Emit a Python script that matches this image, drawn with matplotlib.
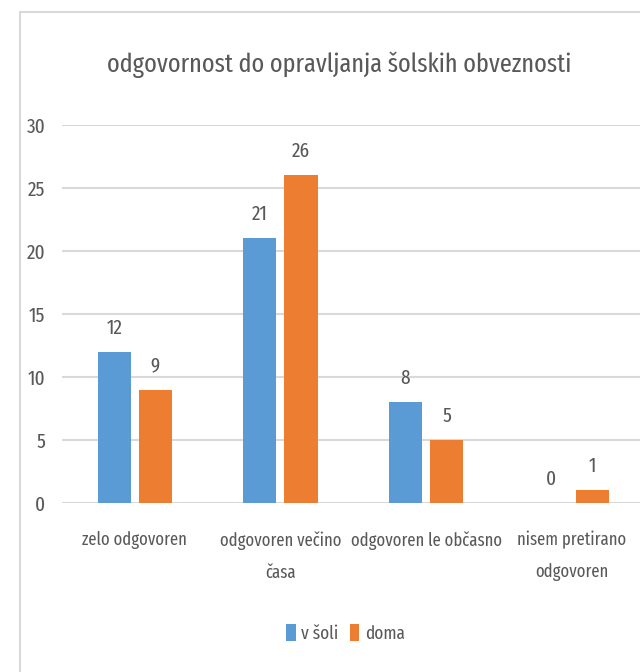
import matplotlib
matplotlib.use("Agg")
import matplotlib.pyplot as plt
from matplotlib.patches import Rectangle
import numpy as np

# data
categories = ["zelo odgovoren", "odgovoren večino\nčasa", "odgovoren le občasno", "nisem pretirano\nodgovoren"]
v_soli = [12, 21, 8, 0]
doma = [9, 26, 5, 1]
series_names = ["v šoli", "doma"]
yticks = [0, 5, 10, 15, 20, 25, 30]

# condensed face, close to the squeezed Calibri of the original
plt.rcParams["font.family"] = ["Fira Sans Extra Condensed", "DejaVu Sans"]

text_col = "#595959"
grid_col = "#d9d9d9"
blue = "#5b9bd5"
orange = "#ed7d31"

fig = plt.figure(figsize=(6.4, 6.72), dpi=100)
ax = fig.add_axes([0.097, 0.2515, 0.91, 0.5625])

# chart border (right/bottom edges run off the picture)
fig.patches.append(Rectangle((20 / 640, -0.1), 1.2, 1 - 12 / 672 + 0.1,
                             transform=fig.transFigure, fill=False,
                             edgecolor=grid_col, lw=1.5))

x = np.arange(len(categories))
w = 0.228
off = w / 2 + 0.0275
b1 = ax.bar(x - off, v_soli, w, color=blue, label=series_names[0], zorder=3)
b2 = ax.bar(x + off, doma, w, color=orange, label=series_names[1], zorder=3)

for bars in (b1, b2):
    for r in bars:
        ax.annotate(f"{int(r.get_height())}", (r.get_x() + r.get_width() / 2, r.get_height()),
                    xytext=(0, 10), textcoords="offset points", ha="center", va="bottom",
                    fontsize=15, color=text_col)

ax.set_xlim(-0.5, 3.5)
ax.set_ylim(0, 30)
ax.set_yticks(yticks)
ax.yaxis.grid(True, color=grid_col, lw=1.5, zorder=0)
ax.set_axisbelow(True)
for s in ax.spines.values():
    s.set_visible(False)
ax.tick_params(axis="both", length=0, labelsize=15, labelcolor=text_col)
ax.tick_params(axis="y", pad=12)
ax.tick_params(axis="x", pad=20)
ax.set_xticks(x)
ax.set_xticklabels(categories, linespacing=2.0)
for t in ax.get_xticklabels():
    t.set_fontsize(13)

fig.text(0.53, 0.903, "odgovornost do opravljanja šolskih obveznosti",
         ha="center", va="center", fontsize=19, color=text_col)

leg = fig.legend(loc="center", bbox_to_anchor=(0.54, 0.058), ncol=2, frameon=False,
                 fontsize=13.5, labelcolor=text_col, handlelength=0.5, handleheight=1.0,
                 handletextpad=0.3, columnspacing=0.6)

plt.savefig("out.png", dpi=100)
